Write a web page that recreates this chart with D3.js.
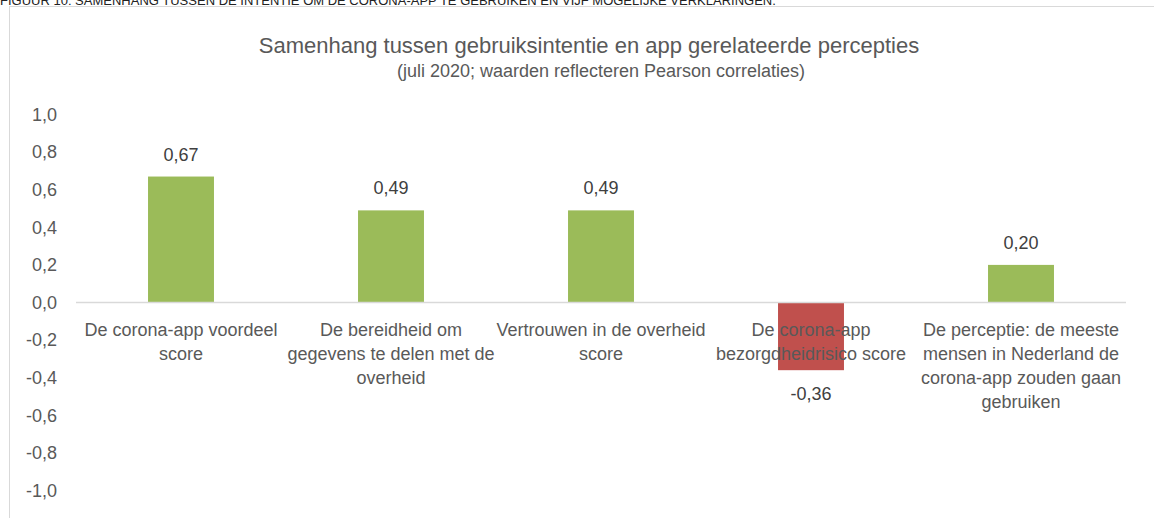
<!DOCTYPE html>
<html>
<head>
<meta charset="utf-8">
<script src="https://cdn.jsdelivr.net/npm/d3@7"></script>
<style>
  body { margin: 0; background: #fff; }
  svg { display: block; font-family: "Liberation Sans", Arial, sans-serif; }
  .tick line, .domain { display: none; }
</style>
</head>
<body>
<div id="chart"></div>
<script>
// chart data
var categories = [
    "De corona-app voordeel\nscore",
    "De bereidheid om\ngegevens te delen met de\noverheid",
    "Vertrouwen in de overheid\nscore",
    "De corona-app\nbezorgdheidrisico score",
    "De perceptie: de meeste\nmensen in Nederland de\ncorona-app zouden gaan\ngebruiken"
];
var values = [0.67, 0.49, 0.49, -0.36, 0.20];
var yTicks = [1.0, 0.8, 0.6, 0.4, 0.2, 0.0, -0.2, -0.4, -0.6, -0.8, -1.0];

var svgWidth = 1154;
var svgHeight = 518;

var svg = d3.select("#chart")
    .append("svg")
    .attr("width", svgWidth)
    .attr("height", svgHeight);

// caption above the frame (cut off at top, as in the source)
svg.append("text")
    .attr("x", 0)
    .attr("y", 5)
    .attr("font-size", "13px")
    .style("fill", "#222")
    .text("FIGUUR 10: SAMENHANG TUSSEN DE INTENTIE OM DE CORONA-APP TE GEBRUIKEN EN VIJF MOGELIJKE VERKLARINGEN.");

// chart frame
svg.append("rect")
    .attr("x", 9.5)
    .attr("y", 6.5)
    .attr("width", 1300)
    .attr("height", 700)
    .style("fill", "#fff")
    .style("stroke", "#d9d9d9");

// titles
svg.append("text")
    .attr("x", 589)
    .attr("y", 53)
    .attr("text-anchor", "middle")
    .attr("font-size", "22px")
    .style("fill", "#595959")
    .text("Samenhang tussen gebruiksintentie en app gerelateerde percepties");

svg.append("text")
    .attr("x", 601)
    .attr("y", 77)
    .attr("text-anchor", "middle")
    .attr("font-size", "18px")
    .style("fill", "#595959")
    .text("(juli 2020; waarden reflecteren Pearson correlaties)");

// scales
var xScale = d3.scaleBand()
    .domain(categories)
    .range([76, 1126])
    .paddingInner(0.686)
    .paddingOuter(0.343);

var yScale = d3.scaleLinear()
    .domain([-1, 1])
    .range([490.5, 114.5]);

// dutch style numbers: comma decimal, plain hyphen minus
var fmt = function (v, digits) {
    return d3.format("." + digits + "f")(v).replace("\u2212", "-").replace(".", ",");
};

// y axis (labels only)
var yAxis = d3.axisLeft(yScale)
    .tickValues(yTicks)
    .tickSize(0)
    .tickPadding(0)
    .tickFormat(d => fmt(d, 1));

svg.append("g")
    .attr("transform", "translate(57,0)")
    .call(yAxis)
    .call(g => g.selectAll("text")
        .attr("font-size", "18px")
        .attr("font-family", "Liberation Sans, Arial, sans-serif")
        .style("fill", "#595959"));

// bars
svg.selectAll(".bar")
    .data(values)
    .enter()
    .append("rect")
    .attr("class", "bar")
    .attr("x", (d, i) => xScale(categories[i]))
    .attr("width", xScale.bandwidth())
    .attr("y", d => yScale(Math.max(0, d)))
    .attr("height", d => Math.abs(yScale(d) - yScale(0)))
    .style("fill", d => d < 0 ? "#c0504d" : "#9bbb59");

// zero line
svg.append("line")
    .attr("x1", xScale.range()[0])
    .attr("x2", xScale.range()[1])
    .attr("y1", yScale(0))
    .attr("y2", yScale(0))
    .style("stroke", "#d9d9d9")
    .style("stroke-width", 1.5);

// value labels
svg.selectAll(".val")
    .data(values)
    .enter()
    .append("text")
    .attr("class", "val")
    .attr("x", (d, i) => xScale(categories[i]) + xScale.bandwidth() / 2)
    .attr("y", d => d >= 0 ? yScale(d) - 16 : yScale(d) + 30)
    .attr("text-anchor", "middle")
    .attr("font-size", "18px")
    .style("fill", "#404040")
    .text(d => fmt(d, 2));

// category labels (drawn over the bars)
categories.forEach(function (c, i) {
    var t = svg.append("text")
        .attr("text-anchor", "middle")
        .attr("font-size", "18px")
        .style("fill", "#595959");
    c.split("\n").forEach(function (line, j) {
        t.append("tspan")
            .attr("x", xScale(c) + xScale.bandwidth() / 2)
            .attr("y", yScale(0) + 33 + j * 24)
            .text(line);
    });
});
</script>
</body>
</html>
